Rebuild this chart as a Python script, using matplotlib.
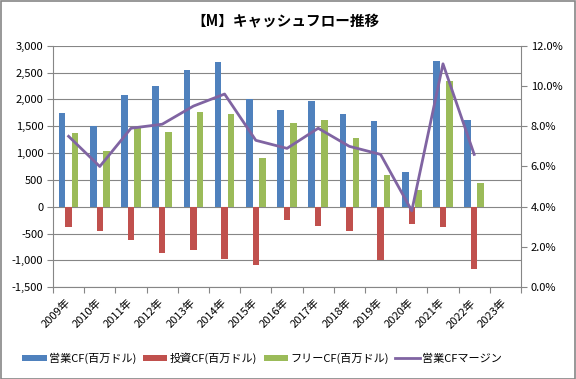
import matplotlib.pyplot as plt
import numpy as np
from matplotlib.patches import Rectangle
from matplotlib.ticker import FuncFormatter

plt.rcParams['font.family'] = ['Noto Sans CJK JP', 'DejaVu Sans']

years = ['2009年', '2010年', '2011年', '2012年', '2013年', '2014年', '2015年', '2016年',
         '2017年', '2018年', '2019年', '2020年', '2021年', '2022年', '2023年']
operating_cf = [1750, 1500, 2080, 2250, 2550, 2700, 2000, 1800,
                1975, 1730, 1600, 650, 2720, 1620, np.nan]
investing_cf = [-370, -460, -610, -870, -800, -970, -1090, -240,
                -350, -460, -990, -330, -370, -1160, np.nan]
free_cf = [1380, 1040, 1490, 1400, 1770, 1730, 900, 1565,
           1620, 1290, 600, 320, 2350, 450, np.nan]
cf_margin = [7.5, 6.0, 7.9, 8.1, 9.0, 9.6, 7.3, 6.9,
             7.9, 7.0, 6.6, 3.8, 11.1, 6.6, np.nan]

BLUE = '#4F81BD'
RED = '#C0504D'
GREEN = '#9BBB59'
PURPLE = '#8064A2'
GRID = '#868686'

fig = plt.figure(figsize=(5.76, 3.79), dpi=100)
ax = fig.add_axes([0.092, 0.242, 0.8125, 0.6374])
x = np.arange(len(years))
w = 0.21

b1 = ax.bar(x - w, operating_cf, w, color=BLUE, label='営業CF(百万ドル)', zorder=3)
b2 = ax.bar(x, investing_cf, w, color=RED, label='投資CF(百万ドル)', zorder=3)
b3 = ax.bar(x + w, free_cf, w, color=GREEN, label='フリーCF(百万ドル)', zorder=3)

ax.set_xlim(-0.5, len(years) - 0.5)
ax.set_ylim(-1500, 3000)
ax.set_yticks(np.arange(-1500, 3001, 500))
ax.yaxis.set_major_formatter(FuncFormatter(lambda v, p: '{:,}'.format(int(v))))
ax.grid(axis='y', color=GRID, linewidth=0.8, zorder=0)
ax.set_xticks(x)
ax.set_xticklabels(years, rotation=45, ha='right', rotation_mode='anchor', va='center')
ax.tick_params(axis='x', length=0, pad=10, labelsize=8)
ax.tick_params(axis='y', length=4, color=GRID, labelsize=8, pad=3)
for s in ['top', 'right', 'bottom']:
    ax.spines[s].set_visible(False)
ax.spines['left'].set_color(GRID)

# category axis line at zero with ticks at the boundaries
sec = ax.secondary_xaxis(0)
sec.set_xticks(np.arange(len(years) + 1) - 0.5)
sec.tick_params(labelbottom=False, length=4, color=GRID)
sec.spines['bottom'].set_color(GRID)

ax2 = ax.twinx()
l1, = ax2.plot(x, np.array(cf_margin) / 100, color=PURPLE, linewidth=2,
               label='営業CFマージン', zorder=4)
ax2.set_ylim(0, 0.12)
ax2.set_yticks(np.arange(0, 0.1201, 0.02))
ax2.yaxis.set_major_formatter(FuncFormatter(lambda v, p: '{:.1f}%'.format(v * 100)))
ax2.tick_params(axis='y', length=4, color=GRID, labelsize=8, pad=3)
for s in ['top', 'left', 'bottom']:
    ax2.spines[s].set_visible(False)
ax2.spines['right'].set_color(GRID)

fig.text(0.495, 0.945, '【M】キャッシュフロー推移', ha='center', va='center',
         fontsize=10.5, fontweight='bold')

fig.legend(handles=[b1, b2, b3, l1], loc='center', bbox_to_anchor=(0.455, 0.055),
           ncol=4, frameon=False, fontsize=8, handlelength=2.2, handleheight=0.5,
           handletextpad=0.2, columnspacing=0.6)

fig.patches.append(Rectangle((0.001, 0.001), 0.997, 0.996, transform=fig.transFigure,
                             fill=False, edgecolor='#868686', linewidth=1.2))

fig.savefig('out.png', dpi=100)
